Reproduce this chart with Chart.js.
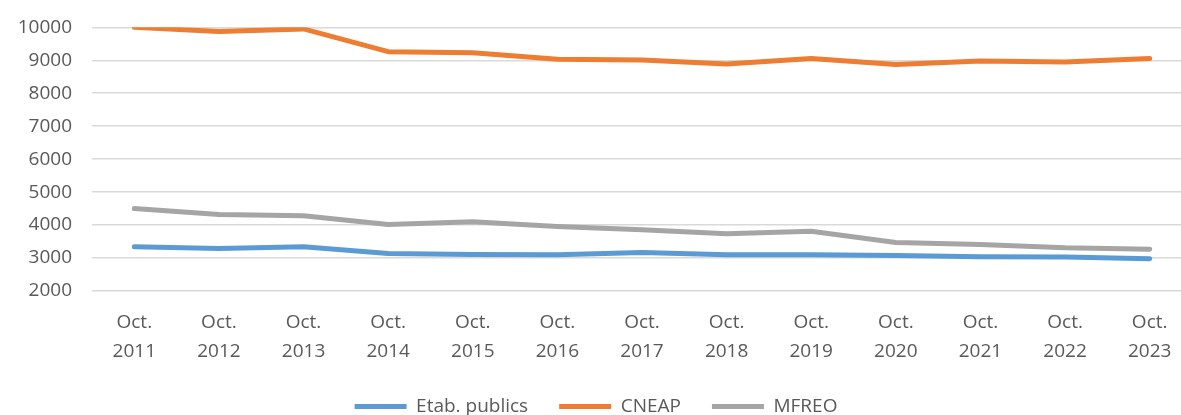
<!DOCTYPE html>
<html>
<head>
<meta charset="utf-8">
<script src="https://cdn.jsdelivr.net/npm/chart.js@4.4.1/dist/chart.umd.min.js"></script>
<style>
html,body{margin:0;padding:0;background:#fff;overflow:hidden;}
#wrap{width:1192px;height:415px;}
</style>
</head>
<body>
<div id="wrap"><canvas id="c" width="1192" height="415"></canvas></div>
<script>
const years = ['2011','2012','2013','2014','2015','2016','2017','2018','2019','2020','2021','2022','2023'];
const categories = years.map(y => ['Oct.', y]);
const etabPublics = [3340, 3290, 3340, 3140, 3110, 3100, 3170, 3100, 3100, 3080, 3040, 3030, 2980];
const cneap = [10000, 9870, 9950, 9260, 9230, 9030, 9010, 8890, 9050, 8870, 8980, 8950, 9050];
const mfreo = [4500, 4320, 4280, 4020, 4100, 3960, 3860, 3740, 3810, 3470, 3410, 3310, 3270];
const yMin = 2000, yMax = 10000, yStep = 1000;

const FONT = 'Open Sans';
const TXT = '#595959';

function ds(label, data, color) {
  return {
    label, data,
    borderColor: color, backgroundColor: color,
    borderWidth: 5, pointRadius: 0, pointHoverRadius: 0,
    tension: 0, borderCapStyle: 'round', borderJoinStyle: 'round',
    pointStyle: 'line'
  };
}

new Chart(document.getElementById('c'), {
  type: 'line',
  data: {
    labels: categories,
    datasets: [
      ds('Etab. publics', etabPublics, '#5B9BD5'),
      ds('CNEAP', cneap, '#ED7D31'),
      ds('MFREO', mfreo, '#A5A5A5')
    ]
  },
  options: {
    responsive: false,
    animation: false,
    layout: { padding: { top: 27.3, left: 0, right: 0, bottom: -11 } },
    plugins: {
      tooltip: { enabled: false },
      legend: {
        position: 'bottom',
        labels: {
          usePointStyle: true,
          pointStyle: 'line',
          pointStyleWidth: 52,
          padding: 31,
          color: TXT,
          font: { family: FONT, size: 19 }
        }
      }
    },
    scales: {
      x: {
        offset: true,
        grid: { display: false, drawTicks: false },
        border: { display: false },
        ticks: {
          color: TXT, font: { family: FONT, size: 19, lineHeight: 1.5 },
          padding: 17.5, maxRotation: 0, autoSkip: false
        },
        afterFit(scale) { scale.height = 75; }
      },
      y: {
        min: yMin, max: yMax,
        grid: { color: '#D9D9D9', lineWidth: 1.5, drawTicks: false },
        border: { display: false },
        ticks: {
          stepSize: yStep, color: TXT,
          font: { family: FONT, size: 19 },
          padding: 20,
          callback: v => String(v)
        },
        afterFit(scale) { scale.width = 92; scale.paddingTop = 0; scale.paddingBottom = 0; }
      }
    }
  }
});
</script>
</body>
</html>
